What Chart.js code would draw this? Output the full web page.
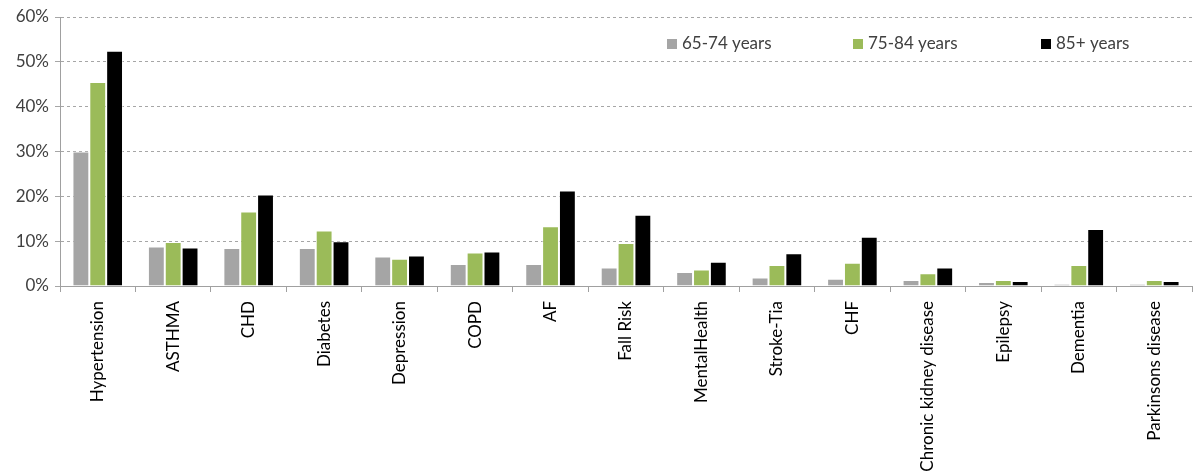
<!DOCTYPE html>
<html>
<head>
<meta charset="utf-8">
<script src="https://cdn.jsdelivr.net/npm/chart.js@4"></script>
<style>
    html, body { margin: 0; padding: 0; background: #fff; }
    #wrap { width: 1194px; height: 474px; }
</style>
</head>
<body>
<div id="wrap"><canvas id="conditionsChart"></canvas></div>
<script>
const categories = ['Hypertension', 'ASTHMA', 'CHD', 'Diabetes', 'Depression', 'COPD', 'AF', 'Fall Risk',
    'MentalHealth', 'Stroke-Tia', 'CHF', 'Chronic kidney disease', 'Epilepsy', 'Dementia', 'Parkinsons disease'];
const age65to74 = [30.0, 8.8, 8.5, 8.5, 6.6, 4.9, 4.9, 4.1, 3.1, 1.9, 1.6, 1.35, 0.9, 0.45, 0.45];
const age75to84 = [45.5, 9.8, 16.6, 12.4, 6.1, 7.5, 13.3, 9.6, 3.7, 4.7, 5.2, 2.85, 1.35, 4.7, 1.35];
const age85plus = [52.5, 8.6, 20.4, 10.0, 6.8, 7.7, 21.3, 15.9, 5.4, 7.3, 11.0, 4.1, 1.1, 12.7, 1.1];
const yTicks = [0, 10, 20, 30, 40, 50, 60];

const FONT = 'Lato, "Liberation Sans", sans-serif';

// legend sits inside the plot area, top right, like the original
const insideLegend = {
    id: 'insideLegend',
    afterDraw(chart) {
        const ctx = chart.ctx;
        const xs = [667, 853, 1041];
        ctx.save();
        ctx.font = '17px ' + FONT;
        ctx.textBaseline = 'middle';
        chart.data.datasets.forEach((ds, i) => {
            ctx.fillStyle = ds.backgroundColor;
            ctx.fillRect(xs[i], 39, 10, 10);
            ctx.fillStyle = '#404040';
            ctx.fillText(ds.label, xs[i] + 15, 44);
        });
        ctx.restore();
    }
};

new Chart(document.getElementById('conditionsChart'), {
    type: 'bar',
    data: {
        labels: categories,
        datasets: [
            {label: '65-74 years', data: age65to74, backgroundColor: '#a5a5a5'},
            {label: '75-84 years', data: age75to84, backgroundColor: '#9bbb59'},
            {label: '85+ years', data: age85plus, backgroundColor: '#000000'}
        ]
    },
    options: {
        responsive: true,
        maintainAspectRatio: false,
        animation: false,
        datasets: {
            bar: {
                categoryPercentage: 0.67,
                barPercentage: 1.0,
                borderWidth: 1,
                borderColor: 'rgba(255,255,255,0.5)'
            }
        },
        layout: {
            padding: {top: 17, right: 2, left: 0, bottom: 0}
        },
        plugins: {
            legend: {display: false},
            tooltip: {enabled: false}
        },
        scales: {
            x: {
                afterFit: (scale) => { scale.height = 188; },
                grid: {
                    offset: true,
                    drawOnChartArea: false,
                    color: '#a0a0a0',
                    tickLength: 6
                },
                border: {color: '#a0a0a0', width: 1},
                ticks: {
                    minRotation: 90,
                    maxRotation: 90,
                    autoSkip: false,
                    color: '#000',
                    padding: 9,
                    font: {family: FONT, size: 17}
                }
            },
            y: {
                min: 0,
                max: 60,
                afterFit: (scale) => { scale.width = 60; },
                afterBuildTicks: (scale) => { scale.ticks = yTicks.map(v => ({value: v})); },
                grid: {
                    color: '#a6a6a6',
                    tickLength: 5,
                    lineWidth: 1
                },
                border: {color: '#a0a0a0', width: 1},
                ticks: {
                    color: '#404040',
                    padding: 6,
                    font: {family: FONT, size: 17},
                    callback: (v) => v + '%'
                }
            }
        }
    },
    plugins: [insideLegend, {
        id: 'dashedGrid',
        beforeDraw(chart) {
            chart.scales.y.options.border.dash = [3, 3];
        }
    }]
});
</script>
</body>
</html>
